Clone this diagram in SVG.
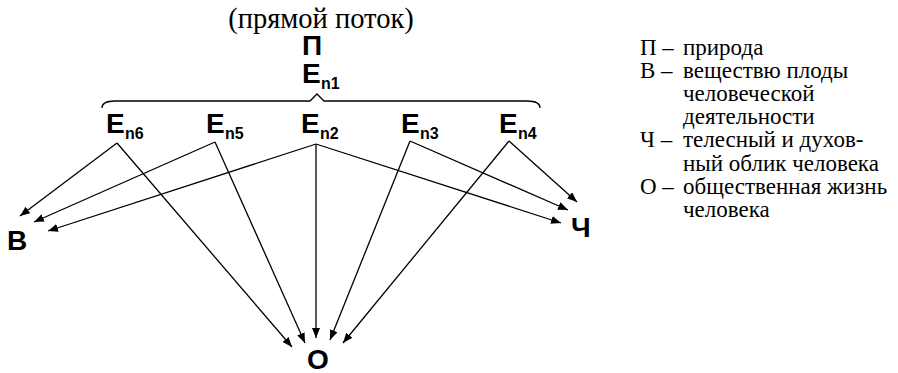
<svg xmlns="http://www.w3.org/2000/svg" width="898" height="373" viewBox="0 0 898 373">
<defs>
<style>
.lbl{font-family:"Liberation Sans",Arial,sans-serif;font-weight:bold;font-size:28px;fill:#000}
.sub{font-family:"Liberation Sans",Arial,sans-serif;font-weight:bold;font-size:16px;fill:#000}
.ser{font-family:"Liberation Serif","Times New Roman",serif;fill:#000}
.leg{font-family:"Liberation Serif","Times New Roman",serif;font-size:23px;fill:#000}
.cn{stroke:#000;stroke-width:1.3;fill:none;marker-end:url(#ah)}
</style>
<marker id="ah" markerUnits="userSpaceOnUse" markerWidth="12" markerHeight="10" refX="10" refY="4" orient="auto">
<path d="M0,0 L10,4 L0,8 Z" fill="#000"/>
</marker>
</defs>
<rect width="898" height="373" fill="#fff"/>
<text class="ser" x="321" y="28" font-size="28.5" text-anchor="middle">(прямой поток)</text>
<g id="P"><text class="lbl" x="302" y="55">П</text></g>
<g id="En1"><text class="lbl" x="302" y="83">E</text><text class="sub" x="321" y="89">n1</text></g>
<path id="brace" d="M102,108 Q102,101 115,101 L310,101 L317,94 L324,101 L527,101 Q540,101 540,108" stroke="#000" stroke-width="1.3" fill="none"/>
<g id="En6"><text class="lbl" x="106" y="133">E</text><text class="sub" x="125" y="139">n6</text></g>
<g id="En5"><text class="lbl" x="206" y="133">E</text><text class="sub" x="225" y="139">n5</text></g>
<g id="En2"><text class="lbl" x="301" y="133">E</text><text class="sub" x="320" y="139">n2</text></g>
<g id="En3"><text class="lbl" x="401" y="133">E</text><text class="sub" x="420" y="139">n3</text></g>
<g id="En4"><text class="lbl" x="499" y="133">E</text><text class="sub" x="518" y="139">n4</text></g>
<g id="V"><text class="lbl" x="7" y="250">В</text></g>
<g id="Ch"><text class="lbl" x="571" y="237">Ч</text></g>
<g id="O"><text class="lbl" x="307" y="369">О</text></g>
<g id="connectors">
<line class="cn" x1="117" y1="143" x2="20" y2="216"/>
<line class="cn" x1="117" y1="143" x2="292" y2="347"/>
<line class="cn" x1="215" y1="142" x2="34" y2="222"/>
<line class="cn" x1="215" y1="142" x2="305" y2="343"/>
<line class="cn" x1="316" y1="144" x2="48" y2="231"/>
<line class="cn" x1="316" y1="144" x2="316" y2="338"/>
<line class="cn" x1="316" y1="144" x2="561" y2="223"/>
<line class="cn" x1="410" y1="141" x2="330" y2="340"/>
<line class="cn" x1="410" y1="141" x2="568" y2="210"/>
<line class="cn" x1="509" y1="141" x2="343" y2="343"/>
<line class="cn" x1="509" y1="141" x2="577" y2="202"/>
</g>
<g id="legend">
<text class="leg" x="640" y="55">П –</text><text class="leg" x="683" y="55">природа</text>
<text class="leg" x="640" y="78">В –</text><text class="leg" x="683" y="78">веществю плоды</text>
<text class="leg" x="683" y="101">человеческой</text>
<text class="leg" x="683" y="124">деятельности</text>
<text class="leg" x="640" y="147">Ч –</text><text class="leg" x="683" y="147">телесный и духов-</text>
<text class="leg" x="683" y="171">ный облик человека</text>
<text class="leg" x="640" y="194">О –</text><text class="leg" x="683" y="194">общественная жизнь</text>
<text class="leg" x="683" y="217">человека</text>
</g>
</svg>
